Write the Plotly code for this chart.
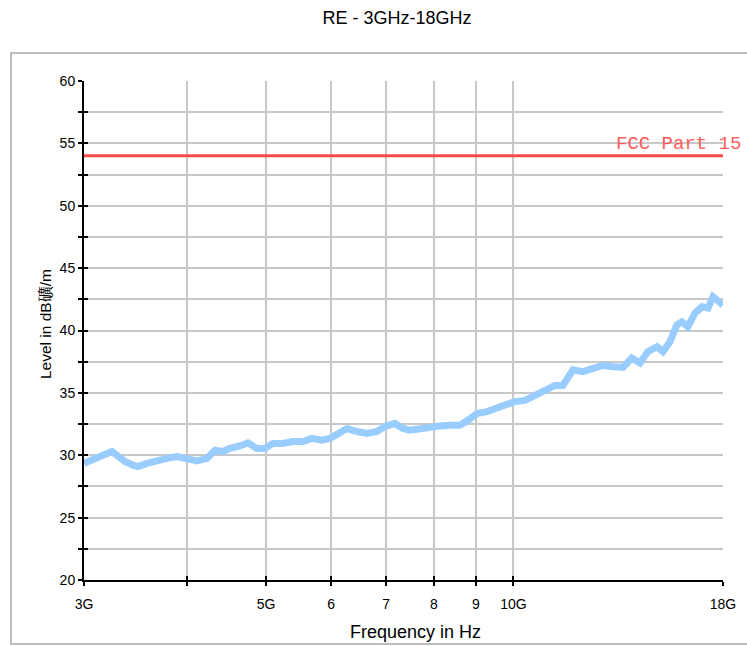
import math
import plotly.graph_objects as go

# ---- data ----
freq_ghz = [3.0, 3.077, 3.164, 3.245, 3.300, 3.365, 3.442, 3.490, 3.580, 3.682,
            3.786, 3.894, 4.005, 4.118, 4.235, 4.331, 4.430, 4.517, 4.646, 4.751,
            4.872, 4.983, 5.096, 5.241, 5.390, 5.543, 5.685, 5.846, 5.979, 6.114,
            6.271, 6.449, 6.632, 6.821, 6.976, 7.174, 7.337, 7.482, 7.695, 7.914,
            8.139, 8.371, 8.609, 8.804, 9.029, 9.285, 9.549, 9.821, 10.04, 10.33,
            10.62, 10.92, 11.24, 11.49, 11.65, 11.82, 12.15, 12.50, 12.85, 13.22,
            13.60, 13.94, 14.26, 14.58, 14.96, 15.21, 15.51, 15.82, 16.04, 16.31,
            16.64, 16.97, 17.26, 17.50, 17.75, 18.0]
level_dbuv = [29.35, 29.6, 30.0, 30.3, 29.9, 29.5, 29.2, 29.1, 29.35, 29.6,
              29.75, 29.9, 29.75, 29.55, 29.75, 30.4, 30.3, 30.55, 30.75, 31.0,
              30.55, 30.55, 30.95, 30.95, 31.1, 31.1, 31.35, 31.2, 31.35, 31.75,
              32.15, 31.9, 31.75, 31.9, 32.3, 32.55, 32.15, 32.0, 32.15, 32.3,
              32.35, 32.4, 32.4, 32.8, 33.35, 33.5, 33.75, 34.0, 34.3, 34.4,
              34.8, 35.2, 35.6, 35.6, 36.3, 36.85, 36.7, 36.95, 37.2, 37.1,
              37.05, 37.8, 37.4, 38.3, 38.7, 38.3, 39.1, 40.45, 40.7, 40.3,
              41.4, 41.9, 41.8, 42.7, 42.45, 42.05]

limit_name = "FCC Part 15"
limit_freq_ghz = [3.0, 18.0]
limit_level = [54.0, 54.0]

x_tickvals_ghz = [3, 4, 5, 6, 7, 8, 9, 10, 18]
x_ticktext = ["3G", "", "5G", "6", "7", "8", "9", "10G", "18G"]
y_tickvals = [20, 22.5, 25, 27.5, 30, 32.5, 35, 37.5, 40, 42.5, 45, 47.5, 50, 52.5, 55, 57.5, 60]
y_ticktext = [str(int(v)) if v % 5 == 0 else "" for v in y_tickvals]

title = "RE - 3GHz-18GHz"
x_title = "Frequency in Hz"
y_title = "Level in dB礦/m"

# ---- figure ----
G = 1e9
xs = [f * G for f in freq_ghz]
x_tickvals = [v * G for v in x_tickvals_ghz]
xr = [math.log10(3 * G), math.log10(18 * G)]

fig = go.Figure()
fig.add_trace(go.Scatter(x=xs, y=level_dbuv, mode="lines",
                         line=dict(color="#99ccff", width=7), showlegend=False,
                         hoverinfo="skip"))
fig.add_trace(go.Scatter(x=[v * G for v in limit_freq_ghz], y=limit_level, mode="lines",
                         line=dict(color="#ff4a4a", width=3), showlegend=False,
                         hoverinfo="skip"))
# helper traces so overlay axes (inside tick halves) are drawn
fig.add_trace(go.Scatter(x=[], y=[], xaxis="x2", yaxis="y", showlegend=False))
fig.add_trace(go.Scatter(x=[], y=[], xaxis="x", yaxis="y2", showlegend=False))

font = "Liberation Sans, Arial, sans-serif"
axis_common = dict(showline=True, linecolor="black", linewidth=2,
                   ticks="outside", ticklen=4, tickwidth=2, tickcolor="black",
                   gridcolor="#c8c8c8", gridwidth=2, zeroline=False,
                   tickfont=dict(family=font, size=14, color="black"))

fig.update_layout(
    width=747, height=646,
    margin=dict(l=84, r=24, t=81, b=66),
    paper_bgcolor="white", plot_bgcolor="white",
    title=dict(text=title, x=0.5315, xref="container", xanchor="center",
               y=1 - 18 / 646, yref="container", yanchor="middle",
               font=dict(family=font, size=18, color="black")),
    xaxis=dict(type="log", range=xr, tickmode="array", tickvals=x_tickvals,
               ticktext=x_ticktext, ticklabelstandoff=6, **axis_common),
    yaxis=dict(range=[20, 60], tickmode="array", tickvals=y_tickvals,
               ticktext=y_ticktext, **axis_common),
    xaxis2=dict(type="log", range=xr, overlaying="x", anchor="y", side="bottom",
                tickmode="array", tickvals=x_tickvals, showticklabels=False,
                ticks="inside", ticklen=4, tickwidth=2, tickcolor="black",
                showgrid=False, showline=False, zeroline=False),
    yaxis2=dict(range=[20, 60], overlaying="y", anchor="x", side="left",
                tickmode="array", tickvals=y_tickvals, showticklabels=False,
                ticks="inside", ticklen=4, tickwidth=2, tickcolor="black",
                showgrid=False, showline=False, zeroline=False),
)

# outer frame
fig.add_shape(type="rect", xref="paper", yref="paper",
              x0=(11 - 84) / 639, x1=(800 - 84) / 639,
              y0=(580 - 644) / 499, y1=(580 - 53) / 499,
              line=dict(color="#bdbdbd", width=2), fillcolor="rgba(0,0,0,0)", layer="below")

fig.add_annotation(text=limit_name, xref="x", yref="y", x=math.log10(18 * G), y=54,
                   xanchor="right", yanchor="bottom", xshift=20, yshift=-1, showarrow=False,
                   font=dict(family="Liberation Mono, Courier New, monospace", size=19,
                             color="#ff5a5a"))
fig.add_annotation(text=x_title, xref="paper", yref="paper",
                   x=(416 - 84) / 639, y=(580 - 632) / 499, xanchor="center",
                   yanchor="middle", showarrow=False,
                   font=dict(family=font, size=18, color="black"))
fig.add_annotation(text=y_title, xref="paper", yref="paper",
                   x=(45 - 84) / 639, y=(580 - 324) / 499, xanchor="center",
                   yanchor="middle", textangle=-90, showarrow=False,
                   font=dict(family=font, size=15.5, color="black"))

fig.write_html("out.html", config={"displayModeBar": False},
               post_script="document.body.style.margin='0';")
